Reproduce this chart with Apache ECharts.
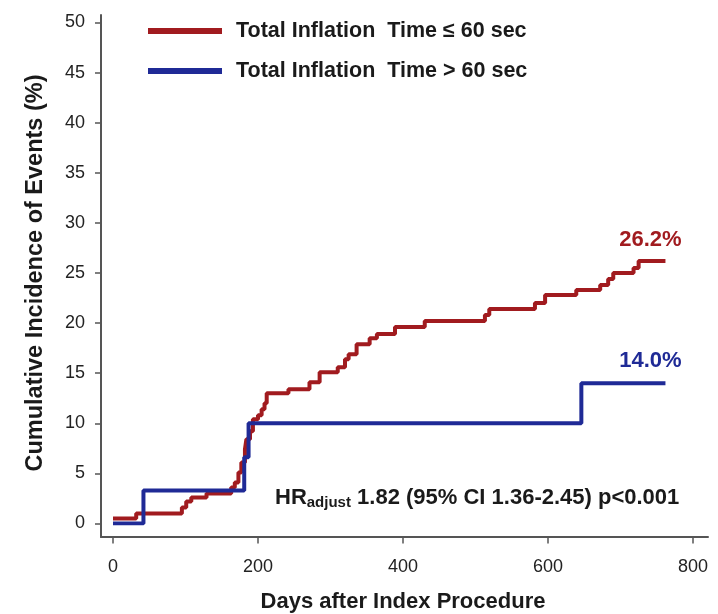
<!DOCTYPE html>
<html>
<head>
<meta charset="utf-8">
<script src="https://cdn.jsdelivr.net/npm/echarts@6/dist/echarts.min.js"></script>
<style>
  html, body { margin: 0; padding: 0; background: #ffffff; }
  #chart { width: 718px; height: 614px; }
</style>
</head>
<body>
<div id="chart"></div>
<script>
// Cumulative incidence by total balloon inflation time (Kaplan-Meier style step curves)
const seriesNames = ['Total Inflation  Time \u2264 60 sec', 'Total Inflation  Time > 60 sec'];

// Event times (days) and cumulative incidence (%) after each step
const daysShort = [0, 32, 95, 101, 108, 129, 163, 168, 173, 177, 182, 184, 189, 193, 200, 205, 209, 212,
  242, 271, 285, 310, 320, 325, 336, 354, 364, 389, 430, 513, 519, 582, 596, 639, 672, 683, 690, 718, 725, 762];
const incShort = [0.5, 1.0, 1.6, 2.2, 2.6, 3.0, 3.6, 4.1, 5.1, 6.1, 7.4, 8.4, 9.2, 10.4, 10.8, 11.4, 12.0, 13.0,
  13.4, 14.1, 15.1, 15.6, 16.4, 16.9, 17.9, 18.5, 18.9, 19.6, 20.2, 20.8, 21.4, 22.0, 22.8, 23.3, 23.8, 24.4, 25.0, 25.5, 26.2, 26.2];

const daysLong = [0, 42, 181, 187, 646, 762];
const incLong = [0, 3.3, 6.6, 10.0, 14.0, 14.0];

const xTicks = { min: 0, max: 800, step: 200 };
const yTicks = { min: 0, max: 50, step: 5 };

const hrText = '1.82 (95% CI 1.36-2.45) p<0.001';

const RED = '#A11B1F';
const BLUE = '#1F2A96';
const AXIS = '#555555';
const FONT = "'Liberation Sans', Arial, sans-serif";

function pairs(xs, ys) { return xs.map((x, i) => [x, ys[i]]); }

// Percentage tag above the final step of a curve
function finalTag(xs, ys, color, dy) {
  const i = xs.length - 1;
  return {
    silent: true,
    symbol: 'circle',
    symbolSize: 0,
    data: [{ coord: [xs[i], ys[i]], value: ys[i] }],
    label: {
      show: true,
      position: 'inside',
      offset: [-15, dy],
      color: color,
      fontFamily: FONT,
      fontWeight: 'bold',
      fontSize: 22,
      formatter: p => p.value.toFixed(1) + '%'
    }
  };
}

const chart = echarts.init(document.getElementById('chart'), null, { renderer: 'canvas' });

chart.setOption({
  animation: false,
  backgroundColor: '#ffffff',
  textStyle: { fontFamily: FONT },
  legend: {
    orient: 'vertical',
    left: 143,
    top: 15,
    itemWidth: 74,
    itemHeight: 6,
    itemGap: 18,
    icon: 'rect',
    data: seriesNames,
    textStyle: {
      fontFamily: FONT,
      fontWeight: 'bold',
      fontSize: 21.5,
      color: '#1a1a1a',
      padding: [0, 0, 0, 9]
    }
  },
  grid: [
    // plotting area (data range 0-800 days, 0-50 %)
    { left: 113, right: 25, top: 22.5, bottom: 90.5, containLabel: false, outerBoundsMode: 'none' },
    // detached L-shaped axis frame
    { left: 101, right: 10, top: 15, bottom: 77, containLabel: false, outerBoundsMode: 'none' }
  ],
  xAxis: [
    {
      gridIndex: 0,
      type: 'value',
      min: xTicks.min,
      max: xTicks.max,
      interval: xTicks.step,
      offset: 13,
      axisLine: { show: false, onZero: false },
      axisTick: { show: true, length: 7, lineStyle: { color: AXIS, width: 1.5 } },
      axisLabel: { fontFamily: FONT, fontSize: 18, color: '#222', margin: 22 },
      splitLine: { show: false },
      name: 'Days after Index Procedure',
      nameLocation: 'middle',
      nameGap: 54,
      nameTextStyle: { fontFamily: FONT, fontWeight: 'bold', fontSize: 22, color: '#1a1a1a' }
    },
    {
      gridIndex: 1,
      type: 'value',
      min: 0,
      max: 1,
      axisLine: { show: true, onZero: false, lineStyle: { color: AXIS, width: 2 } },
      axisTick: { show: false },
      axisLabel: { show: false },
      splitLine: { show: false }
    }
  ],
  yAxis: [
    {
      gridIndex: 0,
      type: 'value',
      min: yTicks.min,
      max: yTicks.max,
      interval: yTicks.step,
      offset: 12,
      axisLine: { show: false, onZero: false },
      axisTick: { show: true, length: 6, lineStyle: { color: AXIS, width: 1.5 } },
      axisLabel: { fontFamily: FONT, fontSize: 18, color: '#222', margin: 16 },
      splitLine: { show: false },
      name: 'Cumulative Incidence of Events (%)',
      nameLocation: 'middle',
      nameGap: 53,
      nameTextStyle: { fontFamily: FONT, fontWeight: 'bold', fontSize: 23.5, color: '#1a1a1a' }
    },
    {
      gridIndex: 1,
      type: 'value',
      min: 0,
      max: 1,
      axisLine: { show: true, onZero: false, lineStyle: { color: AXIS, width: 2 } },
      axisTick: { show: false },
      axisLabel: { show: false },
      splitLine: { show: false }
    }
  ],
  series: [
    {
      name: seriesNames[0],
      type: 'line',
      xAxisIndex: 0,
      yAxisIndex: 0,
      step: 'end',
      symbol: 'none',
      color: RED,
      lineStyle: { color: RED, width: 4 },
      data: pairs(daysShort, incShort),
      markPoint: finalTag(daysShort, incShort, RED, -21)
    },
    {
      name: seriesNames[1],
      type: 'line',
      xAxisIndex: 0,
      yAxisIndex: 0,
      step: 'end',
      symbol: 'none',
      color: BLUE,
      lineStyle: { color: BLUE, width: 4 },
      data: pairs(daysLong, incLong),
      markPoint: finalTag(daysLong, incLong, BLUE, -22)
    }
  ],
  graphic: [
    {
      type: 'text',
      left: 275,
      top: 485,
      style: {
        text: '{hr|HR}{sub|adjust}{hr| ' + hrText + '}',
        rich: {
          hr: { fontFamily: FONT, fontWeight: 'bold', fontSize: 22, fill: '#1a1a1a', lineHeight: 26 },
          sub: { fontFamily: FONT, fontWeight: 'bold', fontSize: 15, fill: '#1a1a1a', padding: [10, 0, 0, 0], lineHeight: 26 }
        }
      }
    }
  ]
});
</script>
</body>
</html>
